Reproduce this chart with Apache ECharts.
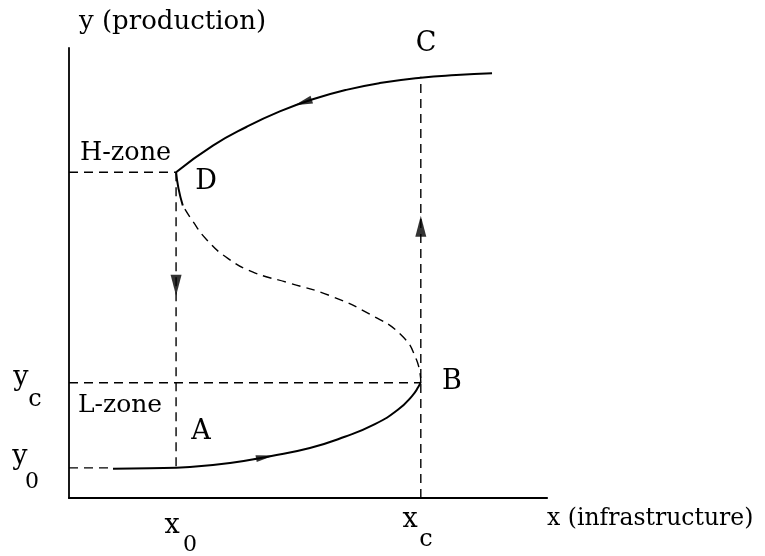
<!DOCTYPE html>
<html>
<head>
<meta charset="utf-8">
<script src="https://cdn.jsdelivr.net/npm/echarts@6/dist/echarts.min.js"></script>
<style>
  html, body { margin: 0; padding: 0; background: #fff; }
  #chart { width: 765px; height: 556px; }
</style>
</head>
<body>
<div id="chart"></div>
<script>
// key levels (axes run 0..10)
const x0 = 2.24
const xc = 7.36
const y0 = 0.67
const yc = 2.56
const yH = 7.24
const yC = 9.36

// lower stable branch, from the y0 level up to B
const lowerBranch = [[0.92, 0.65], [1.69, 0.66], [2.53, 0.69], [3.37, 0.78], [4.21, 0.93], [5.04, 1.11],
  [5.77, 1.36], [6.40, 1.64], [6.88, 1.96], [7.18, 2.27], [7.31, 2.47], [7.36, 2.58]]
// unstable middle branch, B back to just under D
const middleBranch = [[7.36, 2.58], [7.27, 3.07], [6.95, 3.62], [6.30, 4.08], [5.45, 4.50], [4.60, 4.78],
  [3.85, 5.02], [3.33, 5.32], [2.89, 5.73], [2.57, 6.18], [2.38, 6.50]]
// short solid piece ending at D
const dStub = [[2.38, 6.50], [2.29, 6.88], [2.24, 7.24]]
// upper stable branch, D through C
const upperBranch = [[2.24, 7.24], [3.01, 7.83], [3.72, 8.25], [4.41, 8.59], [5.10, 8.86], [5.80, 9.07],
  [6.50, 9.22], [7.36, 9.34], [8.10, 9.40], [8.85, 9.44]]

// dashed guide lines
const guides = [
  [[0, yH], [x0, yH]],
  [[x0, yH], [x0, y0]],
  [[0, y0], [0.92, y0]],
  [[0, yc], [xc, yc]],
  [[xc, 0], [xc, yC]]
]

// arrow heads on the path
const arrowPoints = [[4.1, 0.91], [4.9, 8.79], [x0, 4.73], [xc, 6.04]]
const arrowAngles = [-80, 108, 180, 0]
const arrowSizes = [[7, 18], [8, 18], [11, 21], [11, 21]]

const font = '"DejaVu Serif", "Liberation Serif", serif'

const chart = echarts.init(document.getElementById('chart'))

const txt = (text, x, y, size, align) => ({
  type: 'text',
  style: {
    text: text, x: x, y: y,
    font: size + 'px ' + font,
    fill: '#000',
    align: align || 'center', verticalAlign: 'middle',
    textAlign: align || 'center', textVerticalAlign: 'middle'
  }
})

const solid = { color: '#000', width: 2, type: 'solid' }
const dashed = { color: '#000', width: 1.4, type: [9, 6] }

const series = [
  { type: 'line', data: lowerBranch, smooth: 0.5, lineStyle: solid },
  { type: 'line', data: middleBranch, smooth: 0.5, lineStyle: dashed },
  { type: 'line', data: dStub, smooth: 0.5, lineStyle: solid },
  { type: 'line', data: upperBranch, smooth: 0.5, lineStyle: solid }
]
guides.forEach(g => {
  series.push({ type: 'line', data: g, lineStyle: dashed })
})
series.push({
  type: 'scatter',
  symbol: 'triangle',
  itemStyle: { color: '#000' },
  data: arrowPoints.map((p, i) => ({
    value: p,
    symbolRotate: arrowAngles[i],
    symbolSize: arrowSizes[i]
  }))
})
series.forEach(s => {
  if (s.type === 'line') {
    s.showSymbol = false
    s.symbol = 'none'
  }
  s.silent = true
  s.animation = false
})

const option = {
  animation: false,
  backgroundColor: '#fff',
  grid: { left: 69, top: 48, right: 218, bottom: 58 },
  xAxis: {
    type: 'value', min: 0, max: 10,
    axisLine: { show: true, onZero: false, lineStyle: { color: '#000', width: 2.2 } },
    axisTick: { show: false }, axisLabel: { show: false }, splitLine: { show: false }
  },
  yAxis: {
    type: 'value', min: 0, max: 10,
    axisLine: { show: true, onZero: false, lineStyle: { color: '#000', width: 1.8 } },
    axisTick: { show: false }, axisLabel: { show: false }, splitLine: { show: false }
  },
  graphic: [
    txt('y (production)', 79, 22, 26, 'left'),
    txt('x (infrastructure)', 547, 519, 23.5, 'left'),
    txt('C', 426, 44, 27),
    txt('H-zone', 80, 153, 25.5, 'left'),
    txt('D', 206, 182, 27),
    txt('B', 452, 382, 27),
    txt('A', 201, 432, 27),
    txt('L-zone', 78, 405, 25, 'left'),
    txt('y', 21, 378, 27),
    txt('c', 35, 400, 24),
    txt('y', 20, 457, 27),
    txt('0', 32, 482, 22),
    txt('x', 172, 526, 27),
    txt('0', 190, 545, 22),
    txt('x', 410, 520, 27),
    txt('c', 426, 540, 24)
  ],
  series: series
}

chart.setOption(option)
</script>
</body>
</html>
